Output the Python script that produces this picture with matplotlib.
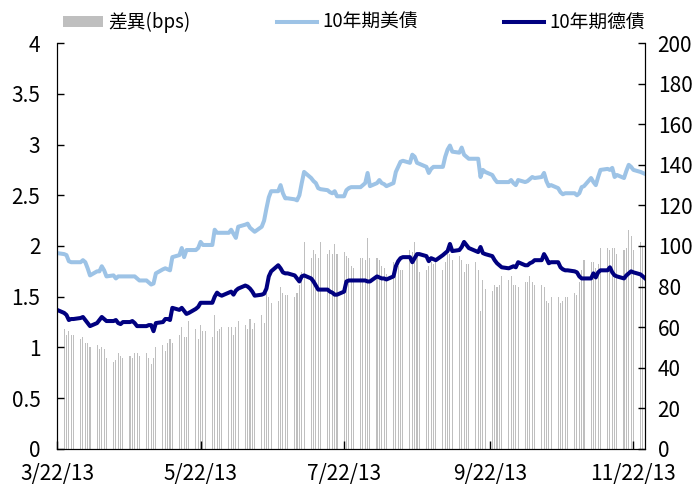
import pandas as pd
import matplotlib
matplotlib.use('Agg')
import matplotlib.pyplot as plt
from matplotlib.ticker import FixedLocator, FixedFormatter

plt.rcParams['font.family'] = ['Noto Sans CJK TC', 'DejaVu Sans']

# business days 3/22/13 .. 11/27/13, one line per week (Mon..Fri)
start, end = '2013-03-22', '2013-11-27'

us_10y = [
    1.93,
    1.92, 1.91, 1.85, 1.84, 1.84,
    1.84, 1.86, 1.84, 1.78, 1.71,
    1.75, 1.75, 1.80, 1.76, 1.70,
    1.71, 1.68, 1.70, 1.70, 1.70,
    1.70, 1.70, 1.70, 1.68, 1.66,
    1.66, 1.64, 1.62, 1.63, 1.73,
    1.77, 1.78, 1.77, 1.76, 1.89,
    1.91, 1.98, 1.89, 1.96, 1.96,
    1.96, 1.98, 2.04, 2.01, 2.01,
    2.01, 2.16, 2.13, 2.13, 2.13,
    2.13, 2.16, 2.12, 2.08, 2.19,
    2.21, 2.22, 2.18, 2.16, 2.14,
    2.19, 2.25, 2.37, 2.48, 2.54,
    2.54, 2.60, 2.52, 2.47, 2.47,
    2.46, 2.45, 2.50, 2.62, 2.73,
    2.67, 2.64, 2.62, 2.57, 2.56,
    2.55, 2.53, 2.52, 2.54, 2.49,
    2.49, 2.55, 2.57, 2.58, 2.58,
    2.58, 2.60, 2.62, 2.72, 2.59,
    2.62, 2.65, 2.62, 2.61, 2.59,
    2.62, 2.73, 2.78, 2.83, 2.84,
    2.82, 2.90, 2.88, 2.82, 2.81,
    2.78, 2.72, 2.76, 2.78, 2.78,
    2.78, 2.88, 2.95, 2.99, 2.93,
    2.92, 2.97, 2.90, 2.88, 2.86,
    2.86, 2.86, 2.68, 2.75, 2.73,
    2.70, 2.66, 2.63, 2.63, 2.63,
    2.63, 2.65, 2.62, 2.60, 2.65,
    2.63, 2.64, 2.66, 2.68, 2.67,
    2.68, 2.72, 2.64, 2.59, 2.60,
    2.57, 2.53, 2.51, 2.52, 2.52,
    2.52, 2.50, 2.52, 2.58, 2.59,
    2.67, 2.63, 2.60, 2.68, 2.75,
    2.76, 2.75, 2.77, 2.68, 2.70,
    2.67, 2.74, 2.80, 2.78, 2.75,
    2.73, 2.72, 2.71,
]

de_10y = [
    1.37,
    1.34, 1.32, 1.27, 1.28, 1.28,
    1.29, 1.30, 1.27, 1.24, 1.21,
    1.24, 1.27, 1.30, 1.28, 1.26,
    1.26, 1.27, 1.24, 1.23, 1.25,
    1.25, 1.26, 1.24, 1.21, 1.21,
    1.21, 1.22, 1.22, 1.16, 1.24,
    1.25, 1.28, 1.28, 1.27, 1.39,
    1.37, 1.39, 1.36, 1.33, 1.34,
    1.38, 1.40, 1.44, 1.44, 1.44,
    1.44, 1.50, 1.54, 1.52, 1.51,
    1.54, 1.55, 1.52, 1.56, 1.58,
    1.61, 1.60, 1.58, 1.55, 1.51,
    1.52, 1.53, 1.58, 1.70, 1.75,
    1.81, 1.78, 1.74, 1.73, 1.73,
    1.71, 1.68, 1.65, 1.70, 1.71,
    1.68, 1.65, 1.61, 1.57, 1.57,
    1.57, 1.55, 1.54, 1.52, 1.52,
    1.55, 1.65, 1.66, 1.66, 1.66,
    1.66, 1.66, 1.66, 1.65, 1.65,
    1.70, 1.69, 1.68, 1.68, 1.67,
    1.70, 1.80, 1.85, 1.88, 1.89,
    1.89, 1.84, 1.88, 1.92, 1.92,
    1.90, 1.85, 1.88, 1.87, 1.86,
    1.91, 1.93, 1.95, 2.02, 1.95,
    1.96, 1.99, 2.04, 2.01, 1.98,
    1.95, 1.94, 1.99, 1.93, 1.92,
    1.90, 1.86, 1.83, 1.81, 1.79,
    1.78, 1.79, 1.80, 1.79, 1.84,
    1.81, 1.81, 1.83, 1.84, 1.86,
    1.86, 1.92, 1.88, 1.83, 1.84,
    1.84, 1.79, 1.77, 1.76, 1.76,
    1.75, 1.74, 1.70, 1.68, 1.68,
    1.68, 1.73, 1.69, 1.74, 1.76,
    1.76, 1.79, 1.74, 1.71, 1.70,
    1.68, 1.71, 1.73, 1.75, 1.74,
    1.72, 1.70, 1.68,
]

spread_bps = [
    58,
    59, 56, 58, 56, 56,
    54, 55, 52, 52, 50,
    51, 49, 50, 49, 45,
    43, 44, 47, 46, 45,
    46, 45, 47, 47, 46,
    47, 45, 42, 45, 50,
    51, 48, 52, 54, 52,
    56, 60, 55, 55, 63,
    59, 54, 61, 58, 58,
    55, 66, 58, 59, 60,
    60, 60, 56, 60, 63,
    61, 59, 64, 59, 62,
    66, 62, 77, 75, 72,
    73, 80, 77, 76, 76,
    75, 77, 81, 87, 102,
    94, 98, 96, 94, 102,
    96, 98, 96, 101, 96,
    97, 95, 94, 90, 89,
    94, 94, 93, 104, 94,
    94, 93, 90, 89, 86,
    92, 90, 90, 88, 88,
    98, 97, 102, 96, 87,
    88, 90, 92, 91, 94,
    88, 92, 96, 96, 93,
    95, 93, 87, 91, 91,
    92, 88, 68, 83, 79,
    78, 81, 80, 81, 85,
    83, 85, 81, 81, 80,
    82, 82, 85, 82, 81,
    81, 80, 73, 72, 75,
    75, 72, 73, 75, 75,
    77, 76, 82, 88, 93,
    92, 92, 89, 91, 99,
    99, 98, 99, 99, 96,
    98, 99, 108, 105, 98,
    102, 100, 98,
]

x_ticks = ['2013-03-22', '2013-05-22', '2013-07-22', '2013-09-22', '2013-11-22']
x_labels = ['3/22/13', '5/22/13', '7/22/13', '9/22/13', '11/22/13']
left_ticks = [0, 0.5, 1, 1.5, 2, 2.5, 3, 3.5, 4]
left_labels = ['0', '0.5', '1', '1.5', '2', '2.5', '3', '3.5', '4']
right_ticks = list(range(0, 201, 20))

dates = pd.bdate_range(start, end)

fig = plt.figure(figsize=(6.96, 4.90), dpi=100)
ax = fig.add_axes([0.082, 0.084, 0.845, 0.828])   # bars, scale on the right
ax2 = ax.twinx()                                  # yields, scale on the left

bars = ax.bar(dates, spread_bps, width=0.45, color='#BFBFBF', label='差異(bps)')
l1, = ax2.plot(dates, us_10y, color='#9DC3E6', lw=2.9, label='10年期美債')
l2, = ax2.plot(dates, de_10y, color='#000080', lw=2.9, label='10年期德債')

ax.set_ylim(0, 200)
ax2.set_ylim(0, 4)
ax.set_xlim(pd.Timestamp(start), pd.Timestamp(end))

ax.yaxis.tick_right()
ax2.yaxis.tick_left()
ax.set_yticks(right_ticks)
ax2.yaxis.set_major_locator(FixedLocator(left_ticks))
ax2.yaxis.set_major_formatter(FixedFormatter(left_labels))
ax.set_xticks(pd.to_datetime(x_ticks))
ax.set_xticklabels(x_labels)

for a in (ax, ax2):
    a.spines['top'].set_visible(False)
    a.tick_params(labelsize=15, direction='in', length=5, width=1, colors='black')
ax.tick_params(axis='y', pad=9)
ax2.tick_params(axis='y', pad=12)
ax.tick_params(axis='x', pad=10, length=6)

fig.legend(handles=[bars, l1, l2], loc='upper left', bbox_to_anchor=(0.066, 1.01),
           ncol=3, frameon=False, fontsize=13.5, handlelength=2.15, handletextpad=0.27,
           columnspacing=4.6, handleheight=0.6)

fig.savefig('out.png', dpi=100)
